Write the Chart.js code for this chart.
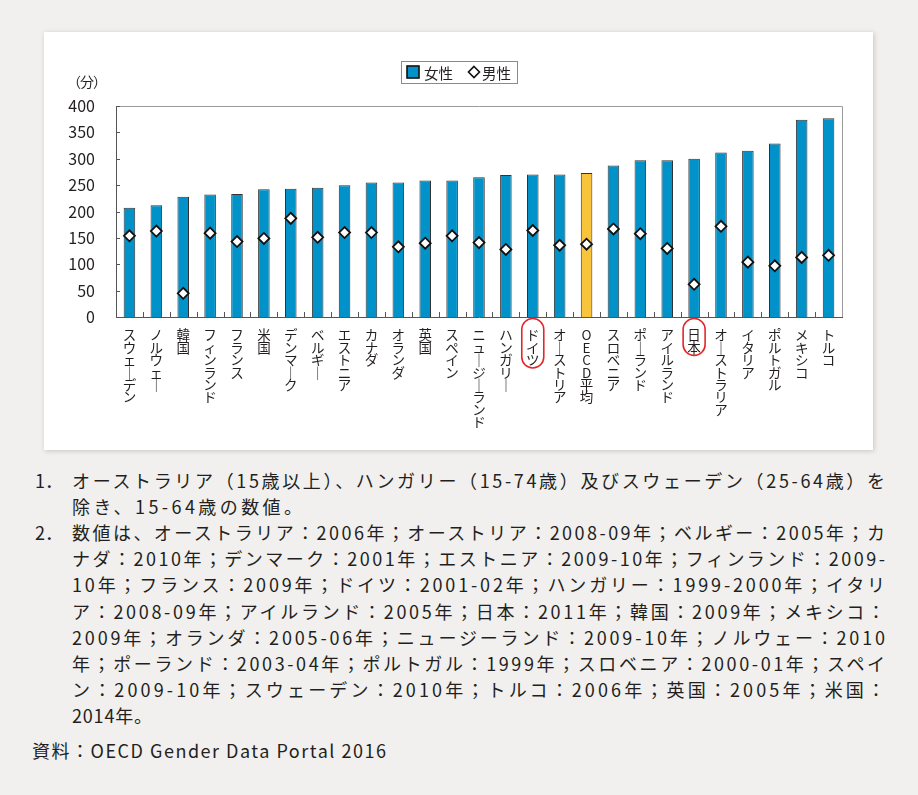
<!DOCTYPE html>
<html lang="ja">
<head>
<meta charset="utf-8">
<script src="https://cdn.jsdelivr.net/npm/chart.js@4.4.1/dist/chart.umd.min.js"></script>
<style>
  html, body { margin: 0; padding: 0; }
  body {
    width: 918px; height: 795px; position: relative; overflow: hidden;
    background: #f1f0ef; color: #231f20;
    font-family: "Noto Sans CJK JP", "Noto Sans", sans-serif;
  }
  #panel {
    position: absolute; left: 44px; top: 32px; width: 829px; height: 418px;
    background: #fff; box-shadow: 1px 1px 5px rgba(0, 0, 0, 0.18);
  }
  #chart { position: absolute; left: 0; top: 0; }
  #unit {
    position: absolute; left: 58px; top: 72px; width: 48px; text-align: right;
    font-size: 14px; line-height: 18px; letter-spacing: -1px;
  }
  .line, .num {
    position: absolute; font-size: 18px; line-height: 20px; white-space: nowrap;
  }
</style>
</head>
<body>
<div id="panel"><canvas id="chart" width="829" height="418"></canvas></div>
<div id="unit">（分）</div>
<div id="notes"></div>
<script>
// データ
const countries = [
  "スウェーデン", "ノルウェー", "韓国", "フィンランド", "フランス", "米国",
  "デンマーク", "ベルギー", "エストニア", "カナダ", "オランダ", "英国",
  "スペイン", "ニュージーランド", "ハンガリー", "ドイツ", "オーストリア",
  "OECD平均", "スロベニア", "ポーランド", "アイルランド", "日本",
  "オーストラリア", "イタリア", "ポルトガル", "メキシコ", "トルコ"
];
const female = [207, 212, 228, 232, 233, 242, 243, 245, 250, 255, 255, 259, 259, 265,
  269, 270, 270, 273, 287, 297, 297, 300, 312, 315, 329, 374, 377];
const male = [154, 163, 45, 159, 143, 149, 187, 151, 160, 160, 133, 140, 154, 141,
  128, 164, 136, 138, 167, 158, 130, 62, 172, 104, 97, 113, 117];
const yTicks = [0, 50, 100, 150, 200, 250, 300, 350, 400];
const seriesNames = ["女性", "男性"];
const averageLabel = "OECD平均";
const highlighted = ["ドイツ", "日本"];

const noteLines = [
  "オーストラリア（15歳以上）、ハンガリー（15-74歳）及びスウェーデン（25-64歳）を",
  "除き、15-64歳の数値。",
  "数値は、オーストラリア：2006年；オーストリア：2008-09年；ベルギー：2005年；カ",
  "ナダ：2010年；デンマーク：2001年；エストニア：2009-10年；フィンランド：2009-",
  "10年；フランス：2009年；ドイツ：2001-02年；ハンガリー：1999-2000年；イタリ",
  "ア：2008-09年；アイルランド：2005年；日本：2011年；韓国：2009年；メキシコ：",
  "2009年；オランダ：2005-06年；ニュージーランド：2009-10年；ノルウェー：2010",
  "年；ポーランド：2003-04年；ポルトガル：1999年；スロベニア：2000-01年；スペイ",
  "ン：2009-10年；スウェーデン：2010年；トルコ：2006年；英国：2005年；米国：",
  "2014年。"
];
const noteWidths = [813, 230, 813, 813, 813, 813, 813, 813, 813, 80];
const sourceText = "資料：OECD Gender Data Portal 2016";

// 色
const BLUE = "#0092c8";
const YELLOW = "#f8c43c";
const FONT = "'Noto Sans CJK JP', 'Noto Sans', sans-serif";

// 縦書き風ラベル
function verticalLabel(s) {
  return Array.from(s).map((c) => (c === "ー" ? "｜" : c));
}

// 枠線と内向きの目盛り
const framePlugin = {
  id: "frame",
  afterDatasetsDraw(chart) {
    const { ctx, chartArea: a, scales } = chart;
    ctx.save();
    ctx.strokeStyle = "#9a9a9a";
    ctx.lineWidth = 1;
    ctx.beginPath();
    ctx.moveTo(a.left, a.top + 0.5);
    ctx.lineTo(a.right + 0.5, a.top + 0.5);
    ctx.lineTo(a.right + 0.5, a.bottom);
    ctx.stroke();

    ctx.strokeStyle = "#555";
    ctx.beginPath();
    const xs = scales.x;
    for (let i = 1; i < countries.length; i++) {
      const bx = Math.round((xs.getPixelForValue(i - 1) + xs.getPixelForValue(i)) / 2) + 0.5;
      ctx.moveTo(bx, a.bottom);
      ctx.lineTo(bx, a.bottom - 5);
    }
    yTicks.forEach((v) => {
      if (v === 0) return;
      const y = Math.round(scales.y.getPixelForValue(v)) + 0.5;
      ctx.moveTo(a.left, y);
      ctx.lineTo(a.left + 4, y);
    });
    ctx.stroke();
    ctx.restore();
  },
  afterDraw(chart) {
    const { ctx, chartArea: a, scales } = chart;
    ctx.save();
    // 赤い囲み
    ctx.strokeStyle = "#e3262b";
    ctx.lineWidth = 1.6;
    highlighted.forEach((name) => {
      const i = countries.indexOf(name);
      const x = scales.x.getPixelForValue(i);
      const n = Array.from(name).length;
      const w = 22, h = n * 12.5 + 12;
      ctx.beginPath();
      ctx.roundRect(x - w / 2, a.bottom + 1.5, w, h, w / 2);
      ctx.stroke();
    });

    // 凡例
    const lx = 357, ly = 29, lw = 116, lh = 22, cy = ly + lh / 2;
    ctx.fillStyle = "#fff";
    ctx.fillRect(lx, ly, lw, lh);
    ctx.strokeStyle = "#8a8a8a";
    ctx.lineWidth = 1;
    ctx.strokeRect(lx + 0.5, ly + 0.5, lw, lh);

    ctx.fillStyle = BLUE;
    ctx.fillRect(363, cy - 6, 12, 12);
    ctx.strokeStyle = "#111";
    ctx.lineWidth = 1.6;
    ctx.strokeRect(363, cy - 6, 12, 12);

    ctx.beginPath();
    ctx.moveTo(430, cy - 5.5);
    ctx.lineTo(435.5, cy);
    ctx.lineTo(430, cy + 5.5);
    ctx.lineTo(424.5, cy);
    ctx.closePath();
    ctx.fillStyle = "#fff";
    ctx.fill();
    ctx.stroke();

    ctx.fillStyle = "#231f20";
    ctx.font = "14.5px " + FONT;
    ctx.textBaseline = "middle";
    ctx.fillText(seriesNames[0], 380, cy + 1);
    ctx.fillText(seriesNames[1], 438, cy + 1);
    ctx.restore();
  }
};

const ctx = document.getElementById("chart").getContext("2d");
new Chart(ctx, {
  type: "bar",
  data: {
    labels: countries,
    datasets: [
      {
        type: "line",
        label: seriesNames[1],
        data: male,
        showLine: false,
        pointStyle: "rectRot",
        pointRadius: 5.5,
        pointBackgroundColor: "#fff",
        pointBorderColor: "#111",
        pointBorderWidth: 1.8,
        order: 1
      },
      {
        label: seriesNames[0],
        data: female,
        backgroundColor: countries.map((c) => (c === averageLabel ? YELLOW : BLUE)),
        borderColor: "#333",
        borderWidth: 1,
        barPercentage: 0.43,
        categoryPercentage: 1,
        order: 2
      }
    ]
  },
  options: {
    responsive: false,
    animation: false,
    devicePixelRatio: 1,
    layout: { padding: { left: 0, top: 74, right: 31, bottom: 0 } },
    plugins: { legend: { display: false }, tooltip: { enabled: false } },
    scales: {
      x: {
        grid: { display: false },
        border: { display: true, color: "#555", width: 1 },
        afterFit: (s) => { s.height = 133; },
        ticks: {
          autoSkip: false,
          maxRotation: 0,
          minRotation: 0,
          padding: 4,
          color: "#231f20",
          font: { family: FONT, size: 13.5, lineHeight: 0.92 },
          callback: (v, i) => verticalLabel(countries[i])
        }
      },
      y: {
        min: 0,
        max: 400,
        grid: { display: false },
        border: { display: true, color: "#555", width: 1 },
        afterFit: (s) => { s.width = 72; },
        afterBuildTicks: (s) => { s.ticks = yTicks.map((v) => ({ value: v })); },
        ticks: {
          padding: 13,
          color: "#231f20",
          font: { family: FONT, size: 16 }
        }
      }
    }
  },
  plugins: [framePlugin]
});

// 注記
const notes = document.getElementById("notes");
function addLine(text, left, top, width, cls) {
  const el = document.createElement("div");
  el.className = cls;
  el.textContent = text;
  el.style.left = left + "px";
  el.style.top = top + "px";
  notes.appendChild(el);
  if (width) {
    const w = el.getBoundingClientRect().width;
    const n = Array.from(text).length;
    el.style.letterSpacing = ((width - w) / (n - 1)) + "px";
  }
  return el;
}
const firstY = 470, step = 26.1;
addLine("1．", 35, firstY, 0, "num");
addLine("2．", 35, firstY + 2 * step, 0, "num");
noteLines.forEach((t, i) => addLine(t, 72, firstY + i * step, noteWidths[i], "line"));
addLine(sourceText, 32, firstY + 10 * step + 9, 354, "line");
</script>
</body>
</html>
